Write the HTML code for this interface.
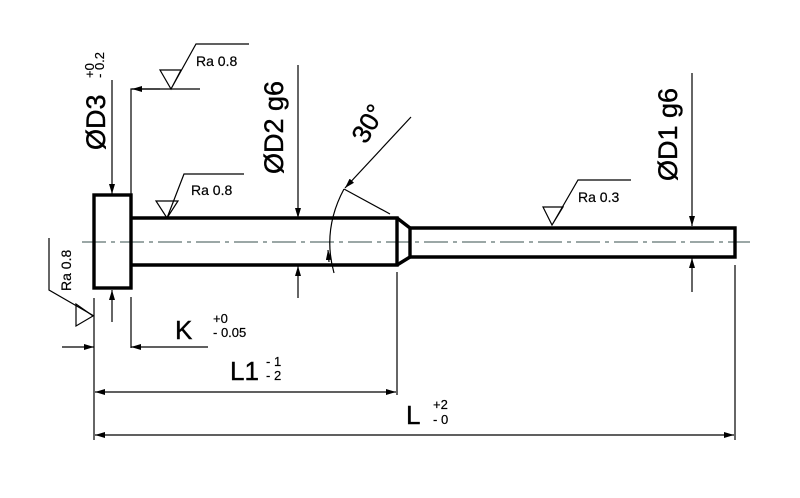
<!DOCTYPE html>
<html><head><style>html,body{margin:0;padding:0;background:#fff}svg{display:block}</style></head><body>
<svg width="800" height="498" viewBox="0 0 800 498" xmlns="http://www.w3.org/2000/svg" font-family="Liberation Sans, Arial, sans-serif">
<defs>
<marker id="a" viewBox="0 0 10 6" refX="10" refY="3" markerWidth="10" markerHeight="6" markerUnits="userSpaceOnUse" orient="auto-start-reverse"><path d="M0,0 L10,3 L0,6 z" fill="#000"/></marker>
</defs>
<rect width="800" height="498" fill="#fff"/>
<line x1="82" y1="242" x2="750" y2="242" stroke="#7a8a88" stroke-width="1.5" stroke-dasharray="24,5,4,5"/>
<g fill="none" stroke="#000" stroke-width="3.4" stroke-linejoin="miter">
<rect x="94" y="195" width="37" height="93"/>
<path d="M131,218 H397 V265 H131"/>
<path d="M397,218 L410,228 V257 L397,265"/>
<path d="M410,228 H735 V257 H410"/>
</g>
<g stroke="#000" stroke-width="1.2" fill="none">
<line x1="112" y1="80" x2="112" y2="194" marker-end="url(#a)"/>
<line x1="112" y1="322" x2="112" y2="290" marker-end="url(#a)"/>
<path d="M131,288 V89 H200"/>
<line x1="160" y1="89" x2="132" y2="89" marker-end="url(#a)"/>
<path d="M160,70 H181 L171,89 Z M171,89 L196,44 H249"/>
<path d="M156,201 H178 L167,218 Z M167,218 L184,174 H244"/>
<path d="M543,207 H563 L552,225 Z M552,225 L578,180 H631"/>
<path d="M49,238 V290 L94,316"/>
<path d="M76,304 V326 L93,316 Z"/>
<line x1="298" y1="65" x2="298" y2="218" marker-end="url(#a)"/>
<line x1="298" y1="298" x2="298" y2="266" marker-end="url(#a)"/>
<line x1="692" y1="73" x2="692" y2="226" marker-end="url(#a)"/>
<line x1="692" y1="292" x2="692" y2="258" marker-end="url(#a)"/>
<line x1="411" y1="117" x2="345" y2="188" marker-end="url(#a)"/>
<line x1="344" y1="189" x2="390" y2="214"/>
<path d="M344,189 Q322,230 334,273"/>
<line x1="329" y1="262" x2="328" y2="250" marker-end="url(#a)"/>
<line x1="94" y1="298" x2="94" y2="440"/>
<line x1="131" y1="297" x2="131" y2="348"/>
<line x1="397" y1="272" x2="397" y2="395"/>
<line x1="735" y1="265" x2="735" y2="440"/>
<line x1="62" y1="347" x2="94" y2="347" marker-end="url(#a)"/>
<line x1="208" y1="347" x2="131" y2="347" marker-end="url(#a)"/>
<line x1="95" y1="392" x2="396" y2="392" marker-start="url(#a)" marker-end="url(#a)"/>
<line x1="95" y1="435" x2="734" y2="435" marker-start="url(#a)" marker-end="url(#a)"/>
</g>
<g fill="#000" stroke="#000" stroke-width="0.4">
<text x="196" y="66" font-size="14" stroke-width="0.2">Ra 0.8</text>
<text x="191" y="195" font-size="14" stroke-width="0.2">Ra 0.8</text>
<text x="578" y="202" font-size="14" stroke-width="0.2">Ra 0.3</text>
<text transform="translate(71,291) rotate(-90)" font-size="14" stroke-width="0.2">Ra 0.8</text>
<text transform="translate(105,150) rotate(-90)" font-size="27">ØD3</text>
<text transform="translate(94,78) rotate(-90)" font-size="13" stroke-width="0.2">+0</text>
<text transform="translate(104,78) rotate(-90)" font-size="13" stroke-width="0.2">- 0.2</text>
<text transform="translate(283,174) rotate(-90)" font-size="27">ØD2 g6</text>
<text transform="translate(677,181) rotate(-90)" font-size="27">ØD1 g6</text>
<text transform="translate(366,145) rotate(-60)" font-size="26">30°</text>
<text x="175" y="339" font-size="26">K</text>
<text x="213" y="323" font-size="13" stroke-width="0.2">+0</text>
<text x="213" y="337" font-size="13" stroke-width="0.2">- 0.05</text>
<text x="230" y="380" font-size="26">L1</text>
<text x="266" y="366" font-size="13" stroke-width="0.2">- 1</text>
<text x="266" y="380" font-size="13" stroke-width="0.2">- 2</text>
<text x="406" y="424" font-size="26">L</text>
<text x="433" y="409" font-size="13" stroke-width="0.2">+2</text>
<text x="433" y="424" font-size="13" stroke-width="0.2">- 0</text>
</g>
</svg>
</body></html>
